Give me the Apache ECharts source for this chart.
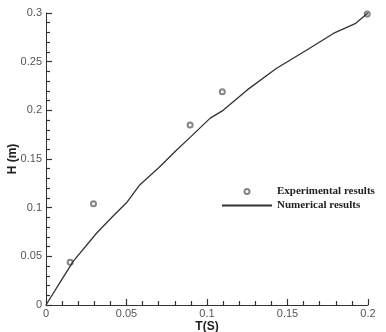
<!DOCTYPE html>
<html>
<head>
<meta charset="utf-8">
<script src="https://cdn.jsdelivr.net/npm/echarts@6/dist/echarts.min.js"></script>
<style>
  html, body { margin: 0; padding: 0; background: #fff; }
  #chart { width: 386px; height: 332px; }
</style>
</head>
<body>
<div id="chart"></div>
<script>
// experimental points [T, H]
const experimental = [
  [0.015, 0.044], [0.0295, 0.104], [0.0895, 0.185], [0.1095, 0.219], [0.1995, 0.299]
]
// numerical curve [T, H]
const numerical = [
  [0, 0], [0.009, 0.024], [0.017, 0.045], [0.0315, 0.074], [0.042, 0.092],
  [0.05, 0.105], [0.058, 0.123], [0.07, 0.141], [0.081, 0.159], [0.09, 0.173],
  [0.102, 0.192], [0.11, 0.2], [0.125, 0.221], [0.143, 0.243], [0.162, 0.262],
  [0.1785, 0.279], [0.192, 0.289], [0.2, 0.3]
]
const seriesNames = ['Experimental results', 'Numerical results']

const chart = echarts.init(document.getElementById('chart'))

const axisCommon = {
  type: 'value',
  axisLine: { show: true, lineStyle: { color: '#333', width: 1 } },
  axisTick: { show: true, inside: true, length: 6, lineStyle: { color: '#333', width: 1.2 } },
  minorTick: { show: true, splitNumber: 5, length: 4, lineStyle: { color: '#333', width: 1.2 } },
  splitLine: { show: false },
  nameLocation: 'middle',
  nameMoveOverlap: false,
  nameTextStyle: { color: '#222', fontFamily: 'Liberation Sans', fontWeight: 'bold', fontSize: 12 }
}

chart.setOption({
  animation: false,
  grid: { left: 46, right: 18, top: 13, bottom: 27, outerBoundsMode: 'none' },
  legend: {
    orient: 'vertical',
    left: 216,
    top: 181,
    itemWidth: 50,
    itemHeight: 5,
    itemGap: 3,
    textStyle: { color: '#222', fontFamily: 'Liberation Serif', fontWeight: 'bold', fontSize: 11 },
    data: [
      { name: seriesNames[0] },
      { name: seriesNames[1], itemStyle: { opacity: 0 } }
    ]
  },
  xAxis: {
    ...axisCommon,
    min: 0, max: 0.2, interval: 0.05,
    axisLabel: { color: '#555', fontFamily: 'Liberation Sans', fontSize: 11, margin: 3 },
    name: 'T(S)', nameGap: 16
  },
  yAxis: {
    ...axisCommon,
    min: 0, max: 0.3, interval: 0.05,
    axisLabel: { color: '#555', fontFamily: 'Liberation Sans', fontSize: 11, margin: 4 },
    name: 'H (m)', nameGap: 27, nameRotate: 90
  },
  series: [
    {
      name: seriesNames[0],
      type: 'scatter',
      data: experimental,
      symbol: 'emptyCircle',
      symbolSize: 5,
      itemStyle: { color: '#666', borderColor: '#666', borderWidth: 0.8 }
    },
    {
      name: seriesNames[1],
      type: 'line',
      data: numerical,
      showSymbol: false,
      symbol: 'none',
      lineStyle: { color: '#333', width: 1.3 },
      itemStyle: { color: '#333' }
    }
  ]
})
</script>
</body>
</html>
